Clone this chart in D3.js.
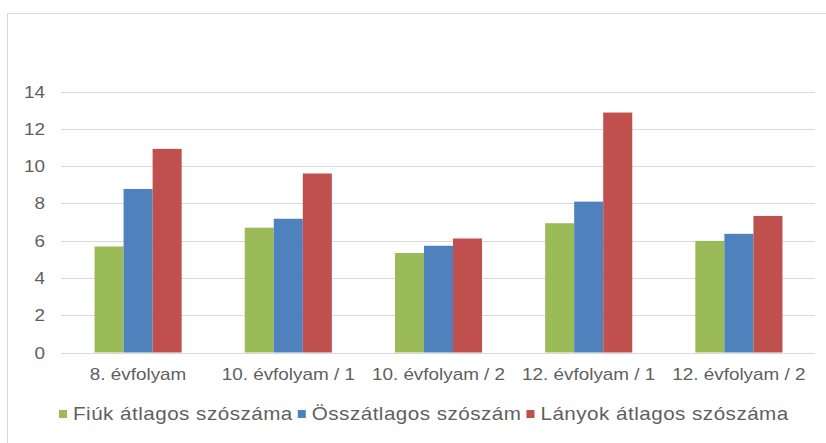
<!DOCTYPE html>
<html>
<head>
<meta charset="utf-8">
<script src="https://cdn.jsdelivr.net/npm/d3@7"></script>
<style>
  body { margin: 0; background: #fff; }
  svg text { font-family: "Liberation Sans", Arial, sans-serif; fill: #5f5f5f; }
</style>
</head>
<body>
<div id="chart-area"></div>
<script>
const width = 826;
const height = 443;

const categories = ["8. évfolyam", "10. évfolyam / 1", "10. évfolyam / 2", "12. évfolyam / 1", "12. évfolyam / 2"];
const seriesNames = ["Fiúk átlagos szószáma", "Összátlagos szószám", "Lányok átlagos szószáma"];
const fiuk = [5.69, 6.70, 5.34, 6.94, 5.99];
const osszes = [8.78, 7.18, 5.73, 8.10, 6.37];
const lanyok = [10.93, 9.61, 6.12, 12.88, 7.33];
const yTicks = [0, 2, 4, 6, 8, 10, 12, 14];

const colors = ["#9bbb59", "#4f81bd", "#c0504d"];
const stretch = 1.18; // the reference text is a bit wide

const svg = d3.select("#chart-area")
    .append("svg")
        .attr("width", width)
        .attr("height", height);

// chart frame
svg.append("rect")
    .attr("x", 7.5).attr("y", 13.5)
    .attr("width", 830).attr("height", 440)
    .attr("fill", "none")
    .attr("stroke", "#d9d9d9");

const x0 = d3.scaleBand()
    .domain(categories)
    .range([63, 814])
    .paddingInner(0.42)
    .paddingOuter(0.21);

const x1 = d3.scaleBand()
    .domain(seriesNames)
    .range([0, x0.bandwidth()]);

const y = d3.scaleLinear()
    .domain([0, 14])
    .range([352.5, 91.7]);

// gridlines
svg.selectAll(".grid")
    .data(yTicks)
    .enter()
    .append("line")
        .attr("x1", 61).attr("x2", 815)
        .attr("y1", d => Math.round(y(d)) + 0.5)
        .attr("y2", d => Math.round(y(d)) + 0.5)
        .attr("stroke", "#d9d9d9")
        .attr("stroke-width", 1);

// stretched text helper
function label(g, x, yPos, txt, anchor, size) {
    return g.append("text")
        .attr("transform", `translate(${x},${yPos}) scale(${stretch},1)`)
        .attr("text-anchor", anchor)
        .style("font-size", size + "px")
        .text(txt);
}

// y tick labels
yTicks.forEach(t => label(svg, 45, y(t) + 6, t, "end", 16));

// bars
const rows = categories.map((c, i) => ({ cat: c, vals: [fiuk[i], osszes[i], lanyok[i]] }));

const groups = svg.selectAll(".grp")
    .data(rows)
    .enter()
    .append("g")
        .attr("transform", d => `translate(${x0(d.cat)},0)`);

groups.selectAll("rect")
    .data(d => d.vals.map((v, j) => ({ name: seriesNames[j], v: v, j: j })))
    .enter()
    .append("rect")
        .attr("x", d => x1(d.name))
        .attr("y", d => y(d.v))
        .attr("width", x1.bandwidth())
        .attr("height", d => y(0) - y(d.v))
        .attr("fill", d => colors[d.j]);

// x labels
categories.forEach(c => label(svg, x0(c) + x0.bandwidth() / 2, 380, c, "middle", 16));

// legend
let lx = 59;
seriesNames.forEach((name, j) => {
    svg.append("rect")
        .attr("x", lx).attr("y", 410)
        .attr("width", 8).attr("height", 8)
        .attr("fill", colors[j]);
    const t = label(svg, lx + 14, 420, name, "start", 17.5)
        .style("letter-spacing", "0.4px");
    lx += 14 + t.node().getBoundingClientRect().width + 5;
});
</script>
</body>
</html>
